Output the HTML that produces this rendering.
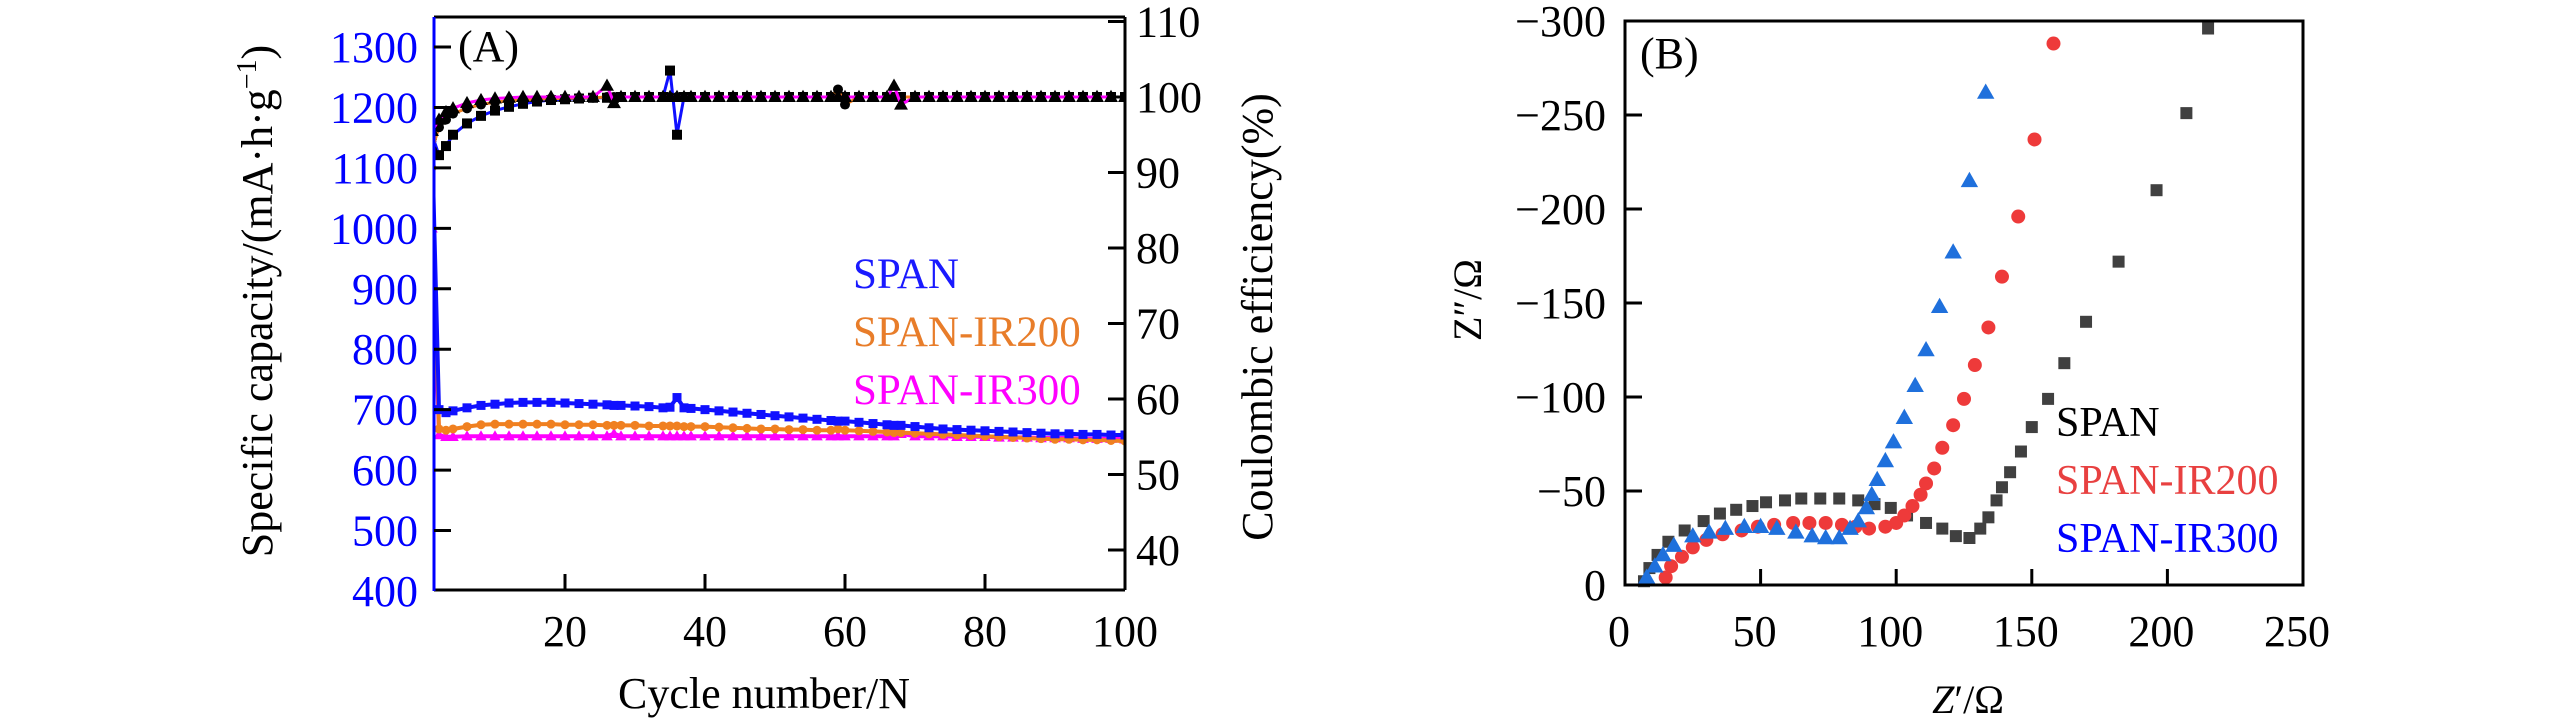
<!DOCTYPE html>
<html><head><meta charset="utf-8"><style>
html,body{margin:0;padding:0;background:#fff}
svg{display:block}
text{font-family:"Liberation Serif",serif}
</style></head><body>
<svg id="fig" width="2567" height="726" viewBox="0 0 2567 726"></svg>
<script>
// ---------- Panel A data ----------
const cycles=[1,2,3,4,6,8,10,12,14,16,18,20,22,24,26,27,28,30,32,34,35,36,37,38,40,42,44,46,48,50,52,54,56,58,59,60,62,64,66,67,68,70,72,74,76,78,80,82,84,86,88,90,92,94,96,98,100];
const capSPAN=[1150,700,695,698,703,707,709,711,712,712,712,711,710,709,708,707,707,706,705,703,704,720,703,702,700,698,696,694,692,690,688,686,684,682,681,681,679,677,675,674,674,672,670,668,667,666,665,664,663,662,661,660,660,659,659,658,658];
const capIR200=[1100,668,666,668,672,675,676,676,676,676,676,675,675,675,674,674,674,674,673,673,673,673,672,672,672,671,670,669,668,668,667,667,666,666,668,666,665,664,663,662,662,661,660,659,658,657,656,655,654,653,652,651,651,650,650,649,648];
const capIR300=[1000,658,655,655,656,656,656,656,656,656,656,656,656,656,656,660,656,656,656,656,656,656,656,656,656,656,656,656,656,656,656,656,656,656,656,656,656,656,656,656,660,656,656,656,655,655,655,654,654,654,653,653,653,652,652,652,651];
const ceSPAN=[95,92.3,93.5,95,96.5,97.5,98.2,98.7,99.1,99.4,99.6,99.7,99.8,99.9,99.9,99.9,100,100,100,100,103.5,95,100,100,100,100,100,100,100,100,100,100,100,100,100,100,100,100,100,100,100,100,100,100,100,100,100,100,100,100,100,100,100,100,100,100,100];
const ceIR200=[93,96,97,97.8,98.5,99,99.3,99.5,99.6,99.7,99.8,99.8,99.9,99.9,100,100,100,100,100,100,100,100,100,100,100,100,100,100,100,100,100,100,100,100,101,99,100,100,100,100,100,100,100,100,100,100,100,100,100,100,100,100,100,100,100,100,100];
const ceIR300=[95.5,97,98,98.5,99.2,99.6,99.8,99.9,100,100,100,100,100,100,101.5,99.2,100,100,100,100,100,100,100,100,100,100,100,100,100,100,100,100,100,100,100,100,100,100,100,101.5,99,100,100,100,100,100,100,100,100,100,100,100,100,100,100,100,100];
const xTicksA=[20,40,60,80,100];
const yTicksL=[400,500,600,700,800,900,1000,1100,1200,1300];
const yTicksR=[40,50,60,70,80,90,100,110];
const legendA=["SPAN","SPAN-IR200","SPAN-IR300"];
// ---------- Panel B data ----------
const zreSPAN=[7,9,12,16,22,29,35,41,47,52,59,65,72,79,86,92,98,104,111,117,122,127,131,134,137,139,142,146,150,156,162,170,182,196,207,215];
const zimSPAN=[-2,-9,-16,-23,-29,-34,-38,-40,-42,-44,-45,-46,-46,-46,-45,-43,-41,-37,-33,-30,-26,-25,-30,-36,-45,-52,-60,-71,-84,-99,-118,-140,-172,-210,-251,-296];
const zreIR200=[15,17,21,25,30,36,43,49,55,62,68,74,80,85,90,96,100,103,106,109,111,114,117,121,125,129,134,139,145,151,158];
const zimIR200=[-4,-10,-15,-20,-24,-27,-29,-31,-32,-33,-33,-33,-32,-31,-30,-31,-33,-37,-42,-48,-54,-62,-73,-85,-99,-117,-137,-164,-196,-237,-288];
const zreIR300=[8,11,14,18,25,31,37,44,50,56,63,69,74,79,83,86,89,91,93,96,99,103,107,111,116,121,127,133];
const zimIR300=[-4,-10,-16,-21,-26,-28,-30,-31,-31,-30,-28,-26,-25,-25,-30,-34,-41,-48,-56,-66,-76,-89,-106,-125,-148,-177,-215,-262];
const xTicksB=[0,50,100,150,200,250];
const yTicksB=[0,-50,-100,-150,-200,-250,-300];
const legendB=["SPAN","SPAN-IR200","SPAN-IR300"];

const NS="http://www.w3.org/2000/svg";
const svg=document.getElementById('fig');
function el(tag,attrs,parent){const e=document.createElementNS(NS,tag);for(const k in attrs)e.setAttribute(k,attrs[k]);(parent||svg).appendChild(e);return e;}
function txt(s,attrs,parent){const e=el('text',attrs,parent);e.textContent=s;return e;}

// ===== Panel A =====
const A={l:434,r:1125,t:17,b:590};
const xA=v=>425+(v-0)*7.0;
const yL=v=>47+(1300-v)*0.6044;
const yR=v=>97+(100-v)*7.55;
const gA=el('g',{},svg);


const cr=el('clipPath',{id:'clipA'},gA);
el('rect',{x:A.l,y:A.t,width:A.r-A.l,height:A.b-A.t},cr);
const plotA=el('g',{'clip-path':'url(#clipA)'},gA);

function series(g,xs,ys,xf,yf,color,lineColor,shape,size,name,lw){
  const sg=el('g',{},g);
  
  
  if(lineColor){
    const p=xs.map((x,i)=>xf(x).toFixed(1)+','+yf(ys[i]).toFixed(1)).join(' ');
    el('polyline',{points:p,fill:'none',stroke:lineColor,'stroke-width':lw||3},sg);
  }
  xs.forEach((x,i)=>{
    const cx=xf(x),cy=yf(ys[i]);let m;
    if(shape==='sq')m=el('rect',{x:cx-size/2,y:cy-size/2,width:size,height:size,fill:color},sg);
    else if(shape==='ci')m=el('circle',{cx:cx,cy:cy,r:size/2,fill:color},sg);
    else m=el('polygon',{points:`${cx},${cy-size*0.6} ${cx-size*0.58},${cy+size*0.42} ${cx+size*0.58},${cy+size*0.42}`,fill:color},sg);
    
    
  });
}
series(plotA,cycles,capIR300,xA,yL,'#ff00ff','#ff00ff','tr',10,'capacity-span-ir300',4);
series(plotA,cycles,capIR200,xA,yL,'#f08020','#f08020','ci',9,'capacity-span-ir200',4);
series(plotA,cycles,capSPAN,xA,yL,'#1010ff','#1010ff','sq',9,'capacity-span',4);
series(plotA,cycles,ceSPAN,xA,yR,'#000','#1010ff','sq',10,'ce-span',3);
series(plotA,cycles,ceIR200,xA,yR,'#000','#f08020','ci',10,'ce-span-ir200',3);
series(plotA,cycles,ceIR300,xA,yR,'#000','#ff00ff','tr',12,'ce-span-ir300',3);

// axes A
const frameA=el('g',{},gA);


el('line',{x1:A.l,y1:A.t,x2:A.r,y2:A.t,stroke:'#000','stroke-width':3},frameA);
el('line',{x1:A.l,y1:A.b,x2:A.r,y2:A.b,stroke:'#000','stroke-width':3},frameA);
el('line',{x1:A.r,y1:A.t,x2:A.r,y2:A.b,stroke:'#000','stroke-width':3},frameA);
el('line',{x1:A.l,y1:A.t,x2:A.l,y2:A.b+1,stroke:'#0000ff','stroke-width':3},frameA);
xTicksA.forEach(v=>{
  el('line',{x1:xA(v),y1:A.b,x2:xA(v),y2:A.b-16,stroke:'#000','stroke-width':3},frameA);
  const t=txt(String(v),{x:xA(v),y:646,'font-size':44,'text-anchor':'middle'},gA);
  
  
});
yTicksL.forEach(v=>{
  if(v>400) el('line',{x1:A.l,y1:yL(v),x2:A.l+17,y2:yL(v),stroke:'#000','stroke-width':3},frameA);
  const t=txt(String(v),{x:418,y:yL(v)+15,'font-size':44,'text-anchor':'end',fill:'#0000ff'},gA);
  
  
});
yTicksR.forEach(v=>{
  el('line',{x1:A.r,y1:yR(v),x2:A.r-17,y2:yR(v),stroke:'#000','stroke-width':3},frameA);
  const t=txt(String(v),{x:1136,y:yR(v)+15,'font-size':44,'text-anchor':'start'},gA);
  
  
});
const la=txt('(A)',{x:458,y:61,'font-size':44,'text-anchor':'start'},gA);

const xtA=txt('Cycle number/N',{x:764,y:708,'font-size':44,'text-anchor':'middle'},gA);

const ytA=el('text',{x:0,y:0,'font-size':44,'text-anchor':'middle',transform:'translate(272,301) rotate(-90)'},gA);
ytA.innerHTML='Specific capacity/(mA·h·g<tspan dy="-16" font-size="28">−1</tspan><tspan dy="16">)</tspan>';

const ytR=txt('Coulombic efficiency(%)',{x:0,y:0,'font-size':44,'text-anchor':'middle',transform:'translate(1272,317) rotate(-90)'},gA);

const legColA=['#1a1aff','#e87d2a','#ff00ff'];
const legYA=[288,346,404];
legendA.forEach((s,i)=>{
  const t=txt(s,{x:853,y:legYA[i],'font-size':43,fill:legColA[i]},gA);
  
  
});

// ===== Panel B =====
const B={l:1625,r:2303,t:21,b:585};
const xB=v=>B.l+v*(B.r-B.l)/250;
const yB=v=>B.b+v*(B.b-B.t)/300;
const gB=el('g',{},svg);


series(gB,zreSPAN,zimSPAN,xB,yB,'#404040',null,'sq',12,'eis-span');
series(gB,zreIR200,zimIR200,xB,yB,'#ee3a3a',null,'ci',14,'eis-span-ir200');
series(gB,zreIR300,zimIR300,xB,yB,'#1f70dc',null,'tr',15,'eis-span-ir300');
const frameB=el('rect',{x:B.l,y:B.t,width:B.r-B.l,height:B.b-B.t,fill:'none',stroke:'#000','stroke-width':3},gB);

xTicksB.forEach(v=>{
  if(v>0&&v<250) el('line',{x1:xB(v),y1:B.b,x2:xB(v),y2:B.b-16,stroke:'#000','stroke-width':3},gB);
  const t=txt(String(v),{x:xB(v)-6,y:646,'font-size':44,'text-anchor':'middle'},gB);
  
  
});
yTicksB.forEach(v=>{
  if(v<0&&v>-300) el('line',{x1:B.l,y1:yB(v),x2:B.l+17,y2:yB(v),stroke:'#000','stroke-width':3},gB);
  const t=txt(v===0?'0':'−'+Math.abs(v),{x:1606,y:yB(v)+15,'font-size':44,'text-anchor':'end'},gB);
  
  
});
const lb=txt('(B)',{x:1640,y:68,'font-size':44},gB);

const xtB=el('text',{x:1968,y:713,'font-size':40,'text-anchor':'middle'},gB);
xtB.innerHTML='<tspan font-style="italic">Z</tspan>′/Ω';

const ytB=txt('Z″/Ω',{x:0,y:0,'font-size':40,'text-anchor':'middle',transform:'translate(1481,300) rotate(-90)'},gB);

const legColB=['#000','#e84040','#0000ff'];
const legYB=[436,494,552];
legendB.forEach((s,i)=>{
  const t=txt(s,{x:2056,y:legYB[i],'font-size':42,fill:legColB[i]},gB);
  
  
});
</script>
</body></html>
